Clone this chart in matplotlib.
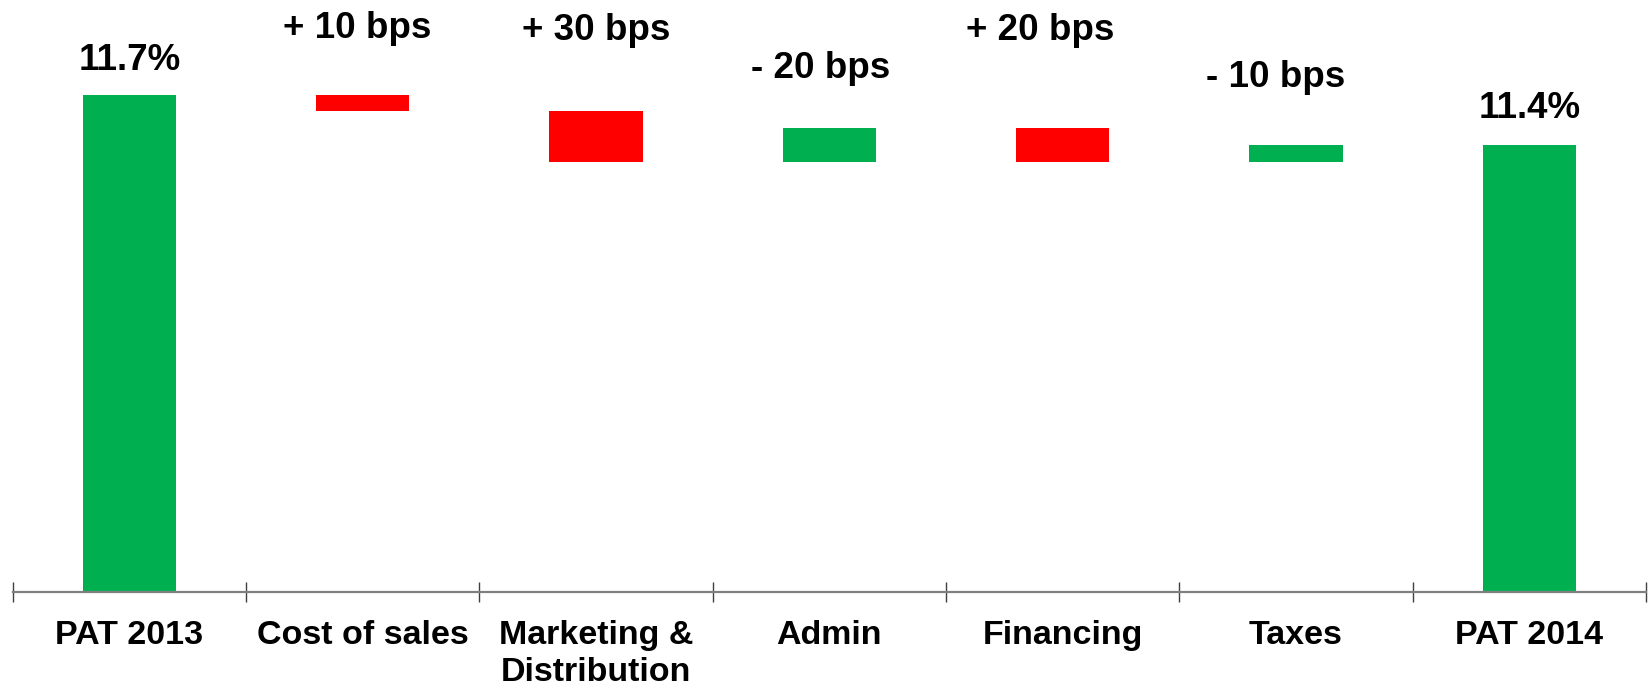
import matplotlib
matplotlib.use("Agg")
import matplotlib.pyplot as plt
from matplotlib.ticker import FixedLocator

# ---- data ----
categories = ["PAT 2013", "Cost of sales", "Marketing &\nDistribution", "Admin",
              "Financing", "Taxes", "PAT 2014"]
pat_start = 11.7          # % margin 2013
pat_end = 11.4            # % margin 2014
cost_change_bps = [10, 30, -20, 20, -10]   # change in cost lines (bps)
total_labels = ["11.7%", "11.4%"]
change_labels = ["+ 10 bps", "+ 30 bps", "- 20 bps", "+ 20 bps", "- 10 bps"]

# ---- style ----
GREEN = "#00B050"
RED = "#FF0000"
FONT = "Liberation Sans"
label_dy_pt = [17.7, 40.8, 51.4, 36.1, 63.5, 42.0, 19.4]   # label offsets above bar tops
label_dx_pt = [0, -4, 0, -6, -16, -15, 0]

W, H = 1648, 689
fig = plt.figure(figsize=(W / 100, H / 100), dpi=100)
ax = fig.add_axes([12.6 / W, 97 / H, (1646 - 12.6) / W, 592 / H])

ymin, ymax = 8.739, 12.263
ax.set_ylim(ymin, ymax)
ax.set_xlim(-0.5, len(categories) - 0.5)

width = 0.4
bottoms, heights, colors, tops = [], [], [], []
# start total
bottoms.append(ymin); heights.append(pat_start - ymin); colors.append(GREEN); tops.append(pat_start)
level = pat_start
for bps in cost_change_bps:
    impact = -bps / 100.0
    new = level + impact
    lo, hi = min(level, new), max(level, new)
    bottoms.append(lo); heights.append(hi - lo)
    colors.append(RED if impact < 0 else GREEN)
    tops.append(hi)
    level = new
bottoms.append(ymin); heights.append(pat_end - ymin); colors.append(GREEN); tops.append(pat_end)

xs = list(range(len(categories)))
ax.bar(xs, heights, bottom=bottoms, width=width, color=colors,
       edgecolor="none", linewidth=0, zorder=2)

labels = [total_labels[0]] + change_labels + [total_labels[1]]
for i, (x, t, lab) in enumerate(zip(xs, tops, labels)):
    ax.annotate(lab, xy=(x, t), xytext=(label_dx_pt[i], label_dy_pt[i]),
                textcoords="offset points", ha="center", va="baseline",
                fontsize=26.5, fontweight="bold", family=FONT, color="black",
                annotation_clip=False)

# axes styling
for s in ["top", "right", "left"]:
    ax.spines[s].set_visible(False)
ax.spines["bottom"].set_color("#808080")
ax.spines["bottom"].set_linewidth(1.6)
ax.set_yticks([])

ax.xaxis.set_major_locator(FixedLocator(xs))
ax.set_xticklabels(categories, fontsize=24.5, fontweight="bold", family=FONT,
                   linespacing=1.25)
ax.tick_params(axis="x", which="major", length=0, pad=20)
ax.xaxis.set_minor_locator(FixedLocator([x - 0.5 for x in xs] + [xs[-1] + 0.5]))
ax.tick_params(axis="x", which="minor", direction="inout", length=14.4,
               width=1.0, color="#404040")

fig.savefig("out.png", dpi=100, facecolor="white")
